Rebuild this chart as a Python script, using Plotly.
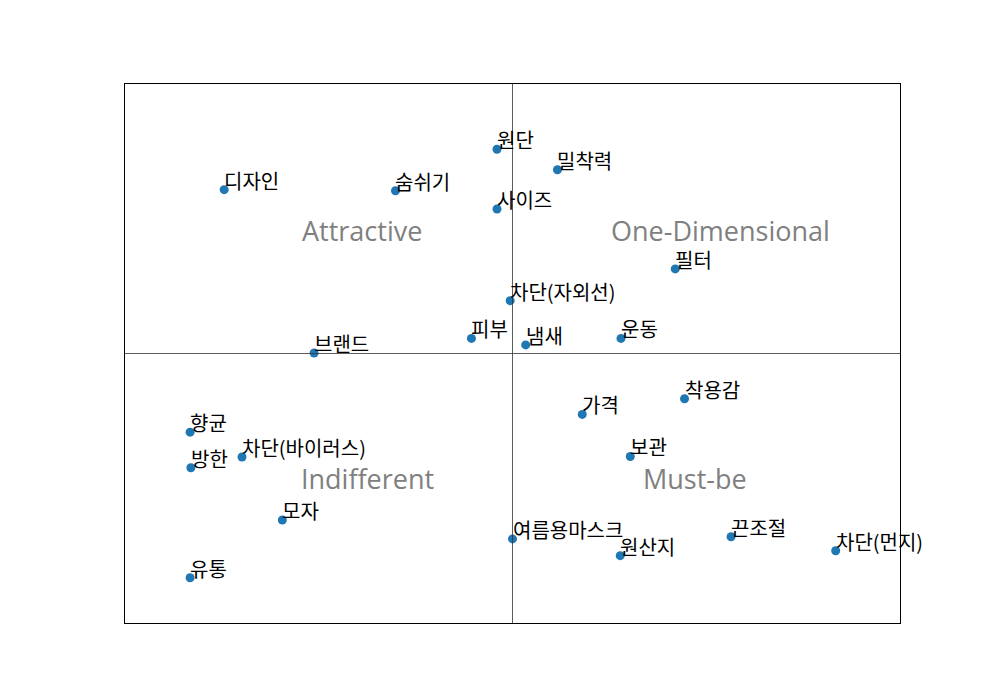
import plotly.graph_objects as go

# Kano attributes (normalised coordinates; midlines at 0.5)
items = ["원단", "밀착력", "디자인", "숨쉬기", "사이즈", "필터", "차단(자외선)", "피부", "냄새", "운동",
         "브랜드", "착용감", "가격", "향균", "차단(바이러스)", "보관", "방한", "모자", "여름용마스크",
         "끈조절", "차단(먼지)", "원산지", "유통"]
x_vals = [0.480, 0.558, 0.128, 0.349, 0.480, 0.710, 0.497, 0.447, 0.517, 0.640,
          0.244, 0.722, 0.590, 0.084, 0.151, 0.652, 0.085, 0.203, 0.500,
          0.782, 0.917, 0.639, 0.084]
y_vals = [0.879, 0.841, 0.804, 0.802, 0.768, 0.657, 0.598, 0.528, 0.516, 0.528,
          0.501, 0.416, 0.387, 0.354, 0.308, 0.309, 0.288, 0.191, 0.156,
          0.160, 0.134, 0.125, 0.084]

quad_names = ["Attractive", "One-Dimensional", "Indifferent", "Must-be"]
quad_x = [0.306, 0.769, 0.313, 0.735]
quad_y = [0.728, 0.728, 0.268, 0.268]

x_mid = 0.5
y_mid = 0.5

FONT = "Noto Sans CJK KR, Malgun Gothic, sans-serif"
QFONT = "Open Sans, Segoe UI, sans-serif"

fig = go.Figure()
fig.add_trace(go.Scatter(
    x=x_vals, y=y_vals, mode="markers",
    marker=dict(color="#1f77b4", size=9),
    hoverinfo="text", text=items, showlegend=False,
))

annotations = []
for name, xv, yv in zip(items, x_vals, y_vals):
    annotations.append(dict(
        x=xv, y=yv, xref="x", yref="y", text=name, showarrow=False,
        xanchor="left", yanchor="bottom", yshift=-7, xshift=-2,
        font=dict(family=FONT, size=20, color="#000000"),
    ))
for name, xv, yv in zip(quad_names, quad_x, quad_y):
    annotations.append(dict(
        x=xv, y=yv, xref="x", yref="y", text=name, showarrow=False,
        xanchor="center", yanchor="middle",
        font=dict(family=QFONT, size=27, color="#808080"),
    ))

shapes = [
    dict(type="line", xref="x", yref="paper", x0=x_mid, x1=x_mid, y0=0, y1=1,
         line=dict(color="#333333", width=0.8)),
    dict(type="line", xref="paper", yref="y", x0=0, x1=1, y0=y_mid, y1=y_mid,
         line=dict(color="#333333", width=0.8)),
]

fig.update_layout(
    width=1000, height=700,
    margin=dict(l=125, r=100, t=84, b=77),
    paper_bgcolor="white", plot_bgcolor="white",
    annotations=annotations, shapes=shapes,
    font=dict(family=FONT),
)
fig.update_xaxes(range=[0, 1], showgrid=False, zeroline=False, showticklabels=False,
                 ticks="", showline=True, mirror=True, linecolor="black", linewidth=1)
fig.update_yaxes(range=[0, 1], showgrid=False, zeroline=False, showticklabels=False,
                 ticks="", showline=True, mirror=True, linecolor="black", linewidth=1)

fig.write_html("out.html")
